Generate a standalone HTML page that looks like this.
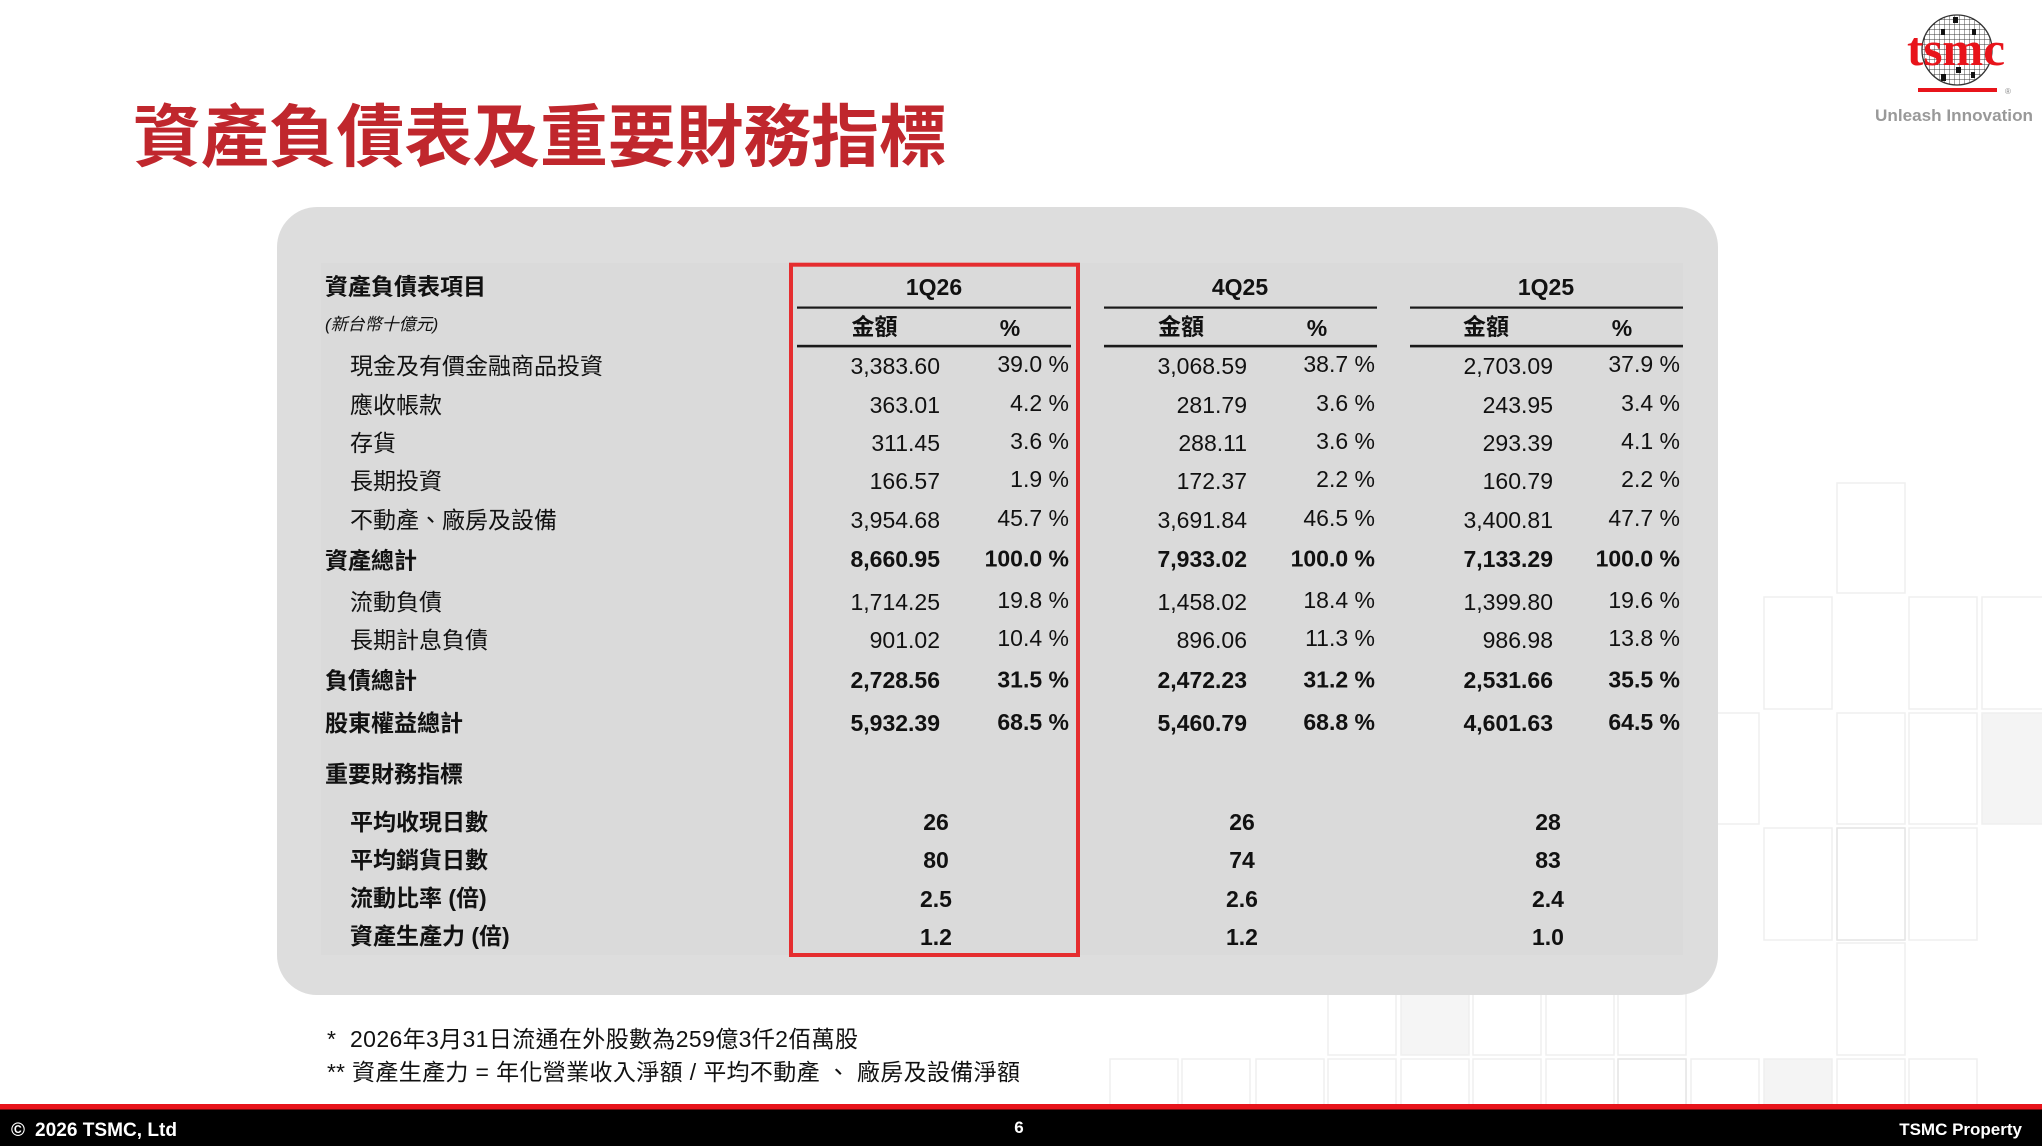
<!DOCTYPE html>
<html>
<head>
<meta charset="utf-8">
<style>
html,body{margin:0;padding:0;background:#fff;}
body{width:2042px;height:1146px;overflow:hidden;}
svg{display:block;}
.t{font-family:"Liberation Sans","Noto Sans CJK TC",sans-serif;fill:#111;}
.n{font-size:23px;}
.b{font-weight:bold;}
.e{text-anchor:end;}
.m{text-anchor:middle;}
</style>
</head>
<body>
<svg width="2042" height="1146" viewBox="0 0 2042 1146" xmlns="http://www.w3.org/2000/svg">
<defs>
<pattern id="grid" width="5" height="5" patternUnits="userSpaceOnUse">
<path d="M5 0V5M0 5H5" stroke="#3a3a3a" stroke-width="0.9" fill="none"/>
</pattern>
<clipPath id="wc"><circle cx="1957" cy="50" r="35"/></clipPath>
</defs>
<rect width="2042" height="1146" fill="#ffffff"/>

<!-- faint background squares -->
<g fill="none" stroke="#efefef" stroke-width="1.5">
<rect x="1837" y="483" width="68" height="110"/>
<rect x="1764" y="597" width="68" height="112"/>
<rect x="1909" y="597" width="68" height="112"/>
<rect x="1982" y="597" width="68" height="112"/>
<rect x="1691" y="713" width="68" height="111"/>
<rect x="1837" y="713" width="68" height="111"/>
<rect x="1909" y="713" width="68" height="111"/>
<rect x="1982" y="713" width="68" height="111" fill="#f4f4f4"/>
<rect x="1764" y="828" width="68" height="112"/>
<rect x="1837" y="828" width="68" height="112" stroke="#e4e4e4"/>
<rect x="1909" y="828" width="68" height="112"/>
<rect x="1837" y="943" width="68" height="112"/>
<rect x="1328" y="943" width="68" height="112"/>
<rect x="1401" y="943" width="68" height="112" fill="#f5f5f5"/>
<rect x="1473" y="943" width="68" height="112"/>
<rect x="1546" y="943" width="68" height="112"/>
<rect x="1618" y="943" width="68" height="112"/>
<rect x="1110" y="1059" width="68" height="60"/>
<rect x="1182" y="1059" width="68" height="60"/>
<rect x="1256" y="1059" width="68" height="60"/>
<rect x="1328" y="1059" width="68" height="60"/>
<rect x="1401" y="1059" width="68" height="60"/>
<rect x="1473" y="1059" width="68" height="60"/>
<rect x="1546" y="1059" width="68" height="60"/>
<rect x="1618" y="1059" width="68" height="60" stroke="#e4e4e4"/>
<rect x="1691" y="1059" width="68" height="60"/>
<rect x="1764" y="1059" width="68" height="60" fill="#f4f4f4"/>
<rect x="1837" y="1059" width="68" height="60"/>
<rect x="1909" y="1059" width="68" height="60"/>
</g>

<!-- Title -->
<text x="133" y="161" font-family="'Liberation Sans','Noto Sans CJK TC',sans-serif" font-size="68" font-weight="bold" fill="#c0272d" textLength="814" lengthAdjust="spacing">資產負債表及重要財務指標</text>

<!-- Logo -->
<circle cx="1957" cy="50" r="35" fill="#ffffff"/>
<g clip-path="url(#wc)">
<rect x="1920" y="13" width="75" height="75" fill="url(#grid)"/>
<rect x="1953" y="17" width="5" height="6" fill="#111"/>
<rect x="1941" y="29" width="4" height="6" fill="#111"/>
<rect x="1972" y="29" width="4" height="6" fill="#111"/>
<rect x="1956" y="67" width="5" height="6" fill="#111"/>
<rect x="1941" y="74" width="5" height="7" fill="#111"/>
<rect x="1971" y="72" width="4" height="6" fill="#111"/>
</g>
<circle cx="1957" cy="50" r="35" fill="none" stroke="#333" stroke-width="1.3"/>
<text x="1907" y="65" font-family="'Liberation Serif',serif" font-size="48" font-weight="bold" fill="#e8141b" textLength="98" lengthAdjust="spacingAndGlyphs">tsmc</text>
<rect x="1918" y="88" width="79" height="4" fill="#e8141b"/>
<text x="2005" y="94" font-family="'Liberation Sans',sans-serif" font-size="8" fill="#888">®</text>
<text x="1875" y="121" font-family="'Liberation Sans',sans-serif" font-size="17" font-weight="bold" fill="#999999" textLength="158" lengthAdjust="spacingAndGlyphs">Unleash Innovation</text>

<!-- Panel -->
<rect x="277" y="207" width="1441" height="788" rx="40" ry="40" fill="#dddddd"/>
<rect x="321" y="263" width="1362" height="692" fill="#dadada"/>

<!-- Header -->
<text class="t b" x="325" y="294.5" font-size="23">資產負債表項目</text>
<text class="t" x="325" y="330" font-size="17" font-style="italic" fill="#222">(新台幣十億元)</text>

<text class="t b n m" x="934" y="295">1Q26</text>
<text class="t b n m" x="1240" y="295">4Q25</text>
<text class="t b n m" x="1546" y="295">1Q25</text>

<g fill="#1a1a1a">
<rect x="797" y="306.5" width="274" height="2.2"/>
<rect x="1104" y="306.5" width="273" height="2.2"/>
<rect x="1410" y="306.5" width="273" height="2.2"/>
<rect x="797" y="344.8" width="274" height="2.6"/>
<rect x="1104" y="344.8" width="273" height="2.6"/>
<rect x="1410" y="344.8" width="273" height="2.6"/>
</g>

<text class="t b n m" x="874.5" y="334.5">金額</text>
<text class="t b n m" x="1010" y="336">%</text>
<text class="t b n m" x="1181" y="334.5">金額</text>
<text class="t b n m" x="1317" y="336">%</text>
<text class="t b n m" x="1486" y="334.5">金額</text>
<text class="t b n m" x="1622" y="336">%</text>

<!-- Rows -->
<g class="t n">
<text x="350" y="374">現金及有價金融商品投資</text>
<text class="e" x="940" y="374">3,383.60</text><text class="e" x="1069" y="372">39.0 %</text>
<text class="e" x="1247" y="374">3,068.59</text><text class="e" x="1375" y="372">38.7 %</text>
<text class="e" x="1553" y="374">2,703.09</text><text class="e" x="1680" y="372">37.9 %</text>

<text x="350" y="413">應收帳款</text>
<text class="e" x="940" y="413">363.01</text><text class="e" x="1069" y="411">4.2 %</text>
<text class="e" x="1247" y="413">281.79</text><text class="e" x="1375" y="411">3.6 %</text>
<text class="e" x="1553" y="413">243.95</text><text class="e" x="1680" y="411">3.4 %</text>

<text x="350" y="451">存貨</text>
<text class="e" x="940" y="451">311.45</text><text class="e" x="1069" y="449">3.6 %</text>
<text class="e" x="1247" y="451">288.11</text><text class="e" x="1375" y="449">3.6 %</text>
<text class="e" x="1553" y="451">293.39</text><text class="e" x="1680" y="449">4.1 %</text>

<text x="350" y="489">長期投資</text>
<text class="e" x="940" y="489">166.57</text><text class="e" x="1069" y="487">1.9 %</text>
<text class="e" x="1247" y="489">172.37</text><text class="e" x="1375" y="487">2.2 %</text>
<text class="e" x="1553" y="489">160.79</text><text class="e" x="1680" y="487">2.2 %</text>

<text x="350" y="528">不動產、廠房及設備</text>
<text class="e" x="940" y="528">3,954.68</text><text class="e" x="1069" y="526">45.7 %</text>
<text class="e" x="1247" y="528">3,691.84</text><text class="e" x="1375" y="526">46.5 %</text>
<text class="e" x="1553" y="528">3,400.81</text><text class="e" x="1680" y="526">47.7 %</text>

<text class="b" x="325" y="568.5">資產總計</text>
<text class="b e" x="940" y="567">8,660.95</text><text class="b e" x="1069" y="566.5">100.0 %</text>
<text class="b e" x="1247" y="567">7,933.02</text><text class="b e" x="1375" y="566.5">100.0 %</text>
<text class="b e" x="1553" y="567">7,133.29</text><text class="b e" x="1680" y="566.5">100.0 %</text>

<text x="350" y="610">流動負債</text>
<text class="e" x="940" y="610">1,714.25</text><text class="e" x="1069" y="608">19.8 %</text>
<text class="e" x="1247" y="610">1,458.02</text><text class="e" x="1375" y="608">18.4 %</text>
<text class="e" x="1553" y="610">1,399.80</text><text class="e" x="1680" y="608">19.6 %</text>

<text x="350" y="648">長期計息負債</text>
<text class="e" x="940" y="648">901.02</text><text class="e" x="1069" y="646">10.4 %</text>
<text class="e" x="1247" y="648">896.06</text><text class="e" x="1375" y="646">11.3 %</text>
<text class="e" x="1553" y="648">986.98</text><text class="e" x="1680" y="646">13.8 %</text>

<text class="b" x="325" y="688.5">負債總計</text>
<text class="b e" x="940" y="688">2,728.56</text><text class="b e" x="1069" y="687.5">31.5 %</text>
<text class="b e" x="1247" y="688">2,472.23</text><text class="b e" x="1375" y="687.5">31.2 %</text>
<text class="b e" x="1553" y="688">2,531.66</text><text class="b e" x="1680" y="687.5">35.5 %</text>

<text class="b" x="325" y="731">股東權益總計</text>
<text class="b e" x="940" y="731">5,932.39</text><text class="b e" x="1069" y="730">68.5 %</text>
<text class="b e" x="1247" y="731">5,460.79</text><text class="b e" x="1375" y="730">68.8 %</text>
<text class="b e" x="1553" y="731">4,601.63</text><text class="b e" x="1680" y="730">64.5 %</text>

<text class="b" x="325" y="782">重要財務指標</text>

<text class="b" x="350" y="830">平均收現日數</text>
<text class="b m" x="936" y="830">26</text>
<text class="b m" x="1242" y="830">26</text>
<text class="b m" x="1548" y="830">28</text>

<text class="b" x="350" y="868">平均銷貨日數</text>
<text class="b m" x="936" y="868">80</text>
<text class="b m" x="1242" y="868">74</text>
<text class="b m" x="1548" y="868">83</text>

<text class="b" x="350" y="906">流動比率 (倍)</text>
<text class="b m" x="936" y="907">2.5</text>
<text class="b m" x="1242" y="907">2.6</text>
<text class="b m" x="1548" y="907">2.4</text>

<text class="b" x="350" y="944">資產生產力 (倍)</text>
<text class="b m" x="936" y="945">1.2</text>
<text class="b m" x="1242" y="945">1.2</text>
<text class="b m" x="1548" y="945">1.0</text>
</g>

<!-- Red highlight box -->
<rect x="791" y="264.7" width="287" height="690.3" fill="none" stroke="#e52d2f" stroke-width="4"/>

<!-- Footnotes -->
<text class="t n" x="327" y="1047">*</text>
<text class="t n" x="350" y="1047" textLength="508" lengthAdjust="spacing">2026年3月31日流通在外股數為259億3仟2佰萬股</text>
<text class="t n" x="327" y="1080">**</text>
<text class="t n" x="352" y="1080" textLength="668" lengthAdjust="spacing">資產生產力 = 年化營業收入淨額 / 平均不動產 、 廠房及設備淨額</text>

<!-- Footer -->
<rect x="0" y="1104" width="2042" height="6" fill="#e8141b"/>
<rect x="0" y="1109.5" width="2042" height="37" fill="#000"/>
<text x="11" y="1136" font-family="'Liberation Sans',sans-serif" font-size="19" font-weight="bold" fill="#fff">©</text>
<text x="35" y="1136" font-family="'Liberation Sans',sans-serif" font-size="19" font-weight="bold" fill="#fff" textLength="142" lengthAdjust="spacingAndGlyphs">2026 TSMC, Ltd</text>
<text x="1019" y="1133" font-family="'Liberation Sans',sans-serif" font-size="17" font-weight="bold" fill="#fff" text-anchor="middle">6</text>
<text x="2022" y="1135" font-family="'Liberation Sans',sans-serif" font-size="17" font-weight="bold" fill="#fff" text-anchor="end">TSMC Property</text>
</svg>
</body>
</html>
